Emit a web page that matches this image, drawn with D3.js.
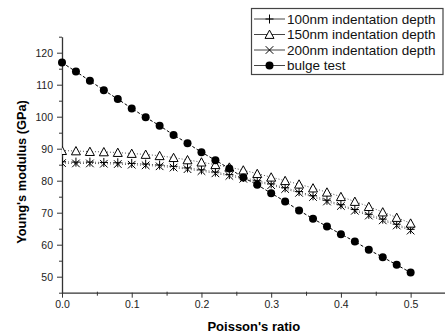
<!DOCTYPE html>
<html>
<head>
<meta charset="utf-8">
<script src="https://cdn.jsdelivr.net/npm/d3@7"></script>
<style>
  body { margin: 0; background: #fff; }
  svg { font-family: "Liberation Sans", Arial, sans-serif; }
</style>
</head>
<body>
<div id="chart"></div>
<script>
// Poisson's ratio values (x)
const nu = [0.00, 0.02, 0.04, 0.06, 0.08, 0.10, 0.12, 0.14, 0.16, 0.18, 0.20, 0.22, 0.24,
            0.26, 0.28, 0.30, 0.32, 0.34, 0.36, 0.38, 0.40, 0.42, 0.44, 0.46, 0.48, 0.50];

// Young's modulus (GPa) for each series
const depth100 = [85.9, 85.8, 85.8, 85.7, 85.6, 85.4, 85.2, 84.9, 84.5, 84.0, 83.4, 82.7, 81.9,
                  81.0, 80.0, 79.0, 77.8, 76.6, 75.3, 73.9, 72.5, 71.0, 69.5, 68.0, 66.4, 64.8];
const depth150 = [89.4, 89.3, 89.1, 89.0, 88.8, 88.5, 88.2, 87.8, 87.2, 86.5, 85.8, 85.0, 84.2,
                  83.3, 82.2, 81.1, 80.0, 78.9, 77.7, 76.4, 75.0, 73.5, 71.9, 70.2, 68.5, 66.7];
const depth200 = [85.5, 85.4, 85.4, 85.3, 85.2, 85.0, 84.8, 84.5, 84.1, 83.6, 83.0, 82.3, 81.5,
                  80.6, 79.6, 78.6, 77.4, 76.2, 74.9, 73.5, 72.1, 70.6, 69.1, 67.6, 66.0, 64.4];
const bulge = [116.9, 114.1, 111.2, 108.3, 105.5, 102.6, 99.8, 97.2, 94.3, 91.7, 88.9, 86.4, 83.8,
               81.0, 78.7, 76.1, 73.5, 70.7, 68.1, 65.7, 63.3, 61.0, 58.4, 56.1, 53.7, 51.3];

const xTicks = [0.0, 0.1, 0.2, 0.3, 0.4, 0.5];
const yTicks = [50, 60, 70, 80, 90, 100, 110, 120];
const seriesNames = ["100nm indentation depth", "150nm indentation depth", "200nm indentation depth", "bulge test"];

const W = 445, H = 336;
const plotL = 62, plotR = 445.5, plotT = 36.7, plotB = 292.7;

const svg = d3.select("#chart").append("svg")
    .attr("width", W)
    .attr("height", H);

const x = d3.scaleLinear().domain([0, 0.55]).range([plotL, plotR]);
const y = d3.scaleLinear().domain([45, 125]).range([plotB, plotT]);

svg.append("defs").append("clipPath").attr("id", "plotClip")
  .append("rect")
    .attr("x", plotL).attr("y", plotT - 10)
    .attr("width", plotR - plotL).attr("height", plotB - plotT + 10);

// minor ticks
svg.append("g")
    .attr("transform", `translate(0,${plotB})`)
    .call(d3.axisBottom(x).tickValues([0.05, 0.15, 0.25, 0.35, 0.45]).tickSize(3).tickFormat(""))
    .call(g => g.select(".domain").remove())
    .call(g => g.selectAll("line").attr("stroke", "#333").attr("y1", -1));
svg.append("g")
    .attr("transform", `translate(${plotL},0)`)
    .call(d3.axisLeft(y).tickValues([45, 55, 65, 75, 85, 95, 105, 115, 125]).tickSize(3).tickFormat(""))
    .call(g => g.select(".domain").remove())
    .call(g => g.selectAll("line").attr("stroke", "#333"));

// X axis
svg.append("g")
    .attr("transform", `translate(0,${plotB})`)
    .call(d3.axisBottom(x).tickValues(xTicks).tickSize(5).tickSizeOuter(0).tickPadding(3)
        .tickFormat(d3.format(".1f")))
    .call(g => g.select(".domain").attr("stroke", "#333").attr("stroke-width", 1.3))
    .call(g => g.selectAll("line").attr("stroke", "#333"))
    .call(g => g.selectAll("text").attr("fill", "#222").style("font-size", "10.5px"));

// Y axis
svg.append("g")
    .attr("transform", `translate(${plotL},0)`)
    .call(d3.axisLeft(y).tickValues(yTicks).tickSize(5).tickSizeOuter(0).tickPadding(4))
    .call(g => g.select(".domain").attr("stroke", "#333").attr("stroke-width", 1.3))
    .call(g => g.selectAll("line").attr("stroke", "#333"))
    .call(g => g.selectAll("text").attr("fill", "#222").style("font-size", "10.5px"));

// axis titles
svg.append("text")
    .attr("text-anchor", "middle")
    .attr("transform", `translate(${(plotL + plotR) / 2},${331})`)
    .style("font-size", "13px")
    .style("font-weight", "bold")
    .text("Poisson's ratio");

svg.append("text")
    .attr("text-anchor", "middle")
    .attr("transform", `translate(${26},${172}) rotate(-90)`)
    .style("font-size", "12.8px")
    .style("font-weight", "bold")
    .text("Young's modulus (GPa)");

// marker shapes
const triPath = "M0,-4.4L4.5,3.9L-4.5,3.9Z";
const plusPath = "M-4,0L4,0M0,-4.5L0,4.5";
const crossPath = "M-3.8,-3.8L3.8,3.8M-3.8,3.8L3.8,-3.8";

const line = d3.line().x(d => x(d[0])).y(d => y(d[1]));
const pairs = arr => nu.map((v, i) => [v, arr[i]]);

const clipG = svg.append("g").attr("clip-path", "url(#plotClip)");

function drawSeries(g, vals, path, dash, color, fill) {
    g.append("path")
        .datum(pairs(vals))
        .attr("fill", "none")
        .attr("stroke", color)
        .attr("stroke-width", 1)
        .attr("stroke-dasharray", dash)
        .attr("d", line);
    g.selectAll(null)
        .data(pairs(vals))
        .enter()
        .append("path")
        .attr("transform", d => `translate(${x(d[0])},${y(d[1])})`)
        .attr("d", path)
        .attr("fill", fill)
        .attr("stroke", "#000")
        .attr("stroke-width", 1);
}

drawSeries(clipG, depth100, plusPath, "1,2", "#555", "none");
drawSeries(clipG, depth150, triPath, "1,2", "#555", "#fff");
drawSeries(clipG, depth200, crossPath, "1,2", "#555", "none");

// bulge test
svg.append("path")
    .datum(pairs(bulge))
    .attr("fill", "none")
    .attr("stroke", "#000")
    .attr("stroke-width", 1)
    .attr("stroke-dasharray", "3,2")
    .attr("d", line);
svg.selectAll("circle.bulge")
    .data(pairs(bulge))
    .enter()
    .append("circle")
    .attr("class", "bulge")
    .attr("cx", d => x(d[0]))
    .attr("cy", d => y(d[1]))
    .attr("r", 4)
    .attr("fill", "#000");

// legend
const legend = svg.append("g");
legend.append("rect")
    .attr("x", 251.5).attr("y", 8.5)
    .attr("width", 191.5).attr("height", 66)
    .attr("fill", "#fff")
    .attr("stroke", "#444")
    .attr("stroke-width", 1.2);

const legendRows = [19, 34.5, 50, 65.5];
const markers = [plusPath, triPath, crossPath, null];
seriesNames.forEach((name, i) => {
    const ly = legendRows[i];
    legend.append("line")
        .attr("x1", 254).attr("x2", 285)
        .attr("y1", ly).attr("y2", ly)
        .attr("stroke", "#444")
        .attr("stroke-width", 1);
    if (markers[i]) {
        legend.append("path")
            .attr("transform", `translate(269.5,${ly})`)
            .attr("d", markers[i])
            .attr("fill", i === 1 ? "#fff" : "none")
            .attr("stroke", "#000");
    } else {
        legend.append("circle")
            .attr("cx", 269.5).attr("cy", ly).attr("r", 4)
            .attr("fill", "#000");
    }
    legend.append("text")
        .attr("x", 287)
        .attr("y", ly)
        .attr("dy", "0.36em")
        .style("font-size", "13.5px")
        .attr("fill", "#111")
        .text(name);
});
</script>
</body>
</html>
